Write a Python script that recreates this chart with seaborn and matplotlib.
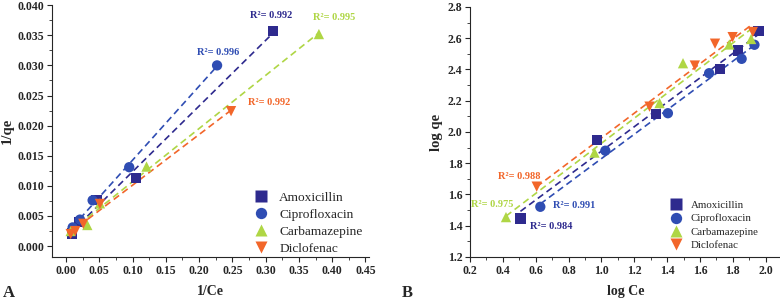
import numpy as np
import pandas as pd
import matplotlib
matplotlib.use("Agg")
import matplotlib.pyplot as plt
from matplotlib.ticker import AutoMinorLocator
import seaborn as sns

drugs = ["Amoxicillin", "Ciprofloxacin", "Carbamazepine", "Diclofenac"]
colors = ["#2e2a8e", "#2f4db3", "#afd645", "#f2662a"]
markers = ["s", "o", "^", "v"]

# panel A: 1/Ce vs 1/qe
inv_ce = {
    "Amoxicillin": [0.311, 0.105, 0.046, 0.020, 0.009],
    "Ciprofloxacin": [0.227, 0.095, 0.040, 0.021, 0.010],
    "Carbamazepine": [0.380, 0.121, 0.051, 0.032, 0.007],
    "Diclofenac": [0.248, 0.051, 0.026, 0.014, 0.007],
}
inv_qe = {
    "Amoxicillin": [0.0357, 0.0113, 0.0077, 0.0040, 0.0021],
    "Ciprofloxacin": [0.0300, 0.0131, 0.0076, 0.0044, 0.0031],
    "Carbamazepine": [0.0352, 0.0132, 0.0071, 0.0035, 0.0025],
    "Diclofenac": [0.0224, 0.0070, 0.0037, 0.0025, 0.0020],
}
r2_a = ["0.992", "0.996", "0.995", "0.992"]
r2_a_pos = [(0.308, 0.0382), (0.228, 0.0322), (0.403, 0.0380), (0.305, 0.0239)]

# panel B: log Ce vs log qe
log_ce = {
    "Amoxicillin": [0.507, 0.973, 1.334, 1.723, 1.830, 1.957],
    "Ciprofloxacin": [0.628, 1.024, 1.405, 1.656, 1.854, 1.932],
    "Carbamazepine": [0.419, 0.958, 1.354, 1.497, 1.779, 1.912],
    "Diclofenac": [0.606, 1.293, 1.569, 1.692, 1.799, 1.922],
}
log_qe = {
    "Amoxicillin": [1.446, 1.949, 2.113, 2.404, 2.522, 2.644],
    "Ciprofloxacin": [1.521, 1.880, 2.120, 2.376, 2.468, 2.558],
    "Carbamazepine": [1.455, 1.868, 2.185, 2.440, 2.560, 2.595],
    "Diclofenac": [1.650, 2.162, 2.425, 2.565, 2.607, 2.640],
}
r2_b = ["0.984", "0.991", "0.975", "0.988"]
r2_b_pos = [(0.692, 1.393), (0.836, 1.532), (0.333, 1.538), (0.497, 1.713)]


def long_table(xs, ys):
    rows = []
    for d in drugs:
        for x, y in zip(xs[d], ys[d]):
            rows.append({"drug": d, "x": x, "y": y})
    return pd.DataFrame(rows)


sns.set_style("ticks")
plt.rcParams["font.family"] = ["Liberation Serif", "DejaVu Serif"]
plt.rcParams["xtick.direction"] = "out"
plt.rcParams["ytick.direction"] = "out"

fig = plt.figure(figsize=(7.8, 3.03), dpi=100)
ax_a = fig.add_axes([0.0667, 0.152, 0.407, 0.831])
ax_b = fig.add_axes([0.6026, 0.152, 0.40, 0.825])


def draw_panel(ax, df, r2, r2_pos, legend_anchor, legend_size):
    for d, c in zip(drugs, colors):
        sub = df[df.drug == d]
        sns.regplot(data=sub, x="x", y="y", ax=ax, scatter=False, ci=None,
                    truncate=True, color=c,
                    line_kws={"ls": (0, (4, 2.5)), "lw": 1.2})
    sns.scatterplot(data=df, x="x", y="y", hue="drug", style="drug",
                    palette=dict(zip(drugs, colors)),
                    markers=dict(zip(drugs, markers)), s=55,
                    edgecolor="none", ax=ax, zorder=3)
    for text, (tx, ty), c in zip(r2, r2_pos, colors):
        ax.text(tx, ty, "R\u00b2= " + text, color=c, fontsize=7.5,
                fontweight="bold", ha="center", va="center")
    handles, labels = ax.get_legend_handles_labels()
    ax.legend(handles, labels, frameon=False, fontsize=legend_size,
              markerscale=1.1, handletextpad=0.4, labelspacing=0.35,
              loc="lower left", bbox_to_anchor=legend_anchor, borderaxespad=0)
    sns.despine(ax=ax)
    ax.tick_params(which="major", length=3.5, width=0.8, labelsize=8.5, pad=2)
    ax.tick_params(which="minor", length=2, width=0.6)
    ax.xaxis.set_minor_locator(AutoMinorLocator(2))
    ax.yaxis.set_minor_locator(AutoMinorLocator(2))


df_a = long_table(inv_ce, inv_qe)
draw_panel(ax_a, df_a, r2_a, r2_a_pos, (0.598, -0.012), 9.6)
ax_a.set_xlim(-0.021, 0.456)
ax_a.set_ylim(-0.0018, 0.040)
xt = np.arange(0, 0.451, 0.05)
yt = np.arange(0, 0.0401, 0.005)
ax_a.set_xticks(xt)
ax_a.set_xticklabels([f"{v:.2f}" for v in xt], fontweight="bold")
ax_a.set_yticks(yt)
ax_a.set_yticklabels([f"{v:.3f}" for v in yt], fontweight="bold")
ax_a.set_xlabel("1/Ce", fontsize=10, fontweight="bold", labelpad=6)
ax_a.set_ylabel("1/qe", fontsize=10.5, fontweight="bold", labelpad=3)

df_b = long_table(log_ce, log_qe)
draw_panel(ax_b, df_b, r2_b, r2_b_pos, (0.61, 0.01), 7.8)
ax_b.set_xlim(0.2, 2.1)
ax_b.set_ylim(1.2, 2.8)
xt = np.arange(0.2, 2.01, 0.2)
yt = np.arange(1.2, 2.81, 0.2)
ax_b.set_xticks(xt)
ax_b.set_xticklabels([f"{v:.1f}" for v in xt], fontweight="bold")
ax_b.set_yticks(yt)
ax_b.set_yticklabels([f"{v:.1f}" for v in yt], fontweight="bold")
ax_b.set_xlabel("log Ce", fontsize=10, fontweight="bold", labelpad=6)
ax_b.set_ylabel("log qe", fontsize=10.5, fontweight="bold", labelpad=3)

fig.text(0.004, 0.02, "A", fontsize=12, fontweight="bold")
fig.text(0.515, 0.02, "B", fontsize=12, fontweight="bold")

fig.savefig("out.png", dpi=100)
